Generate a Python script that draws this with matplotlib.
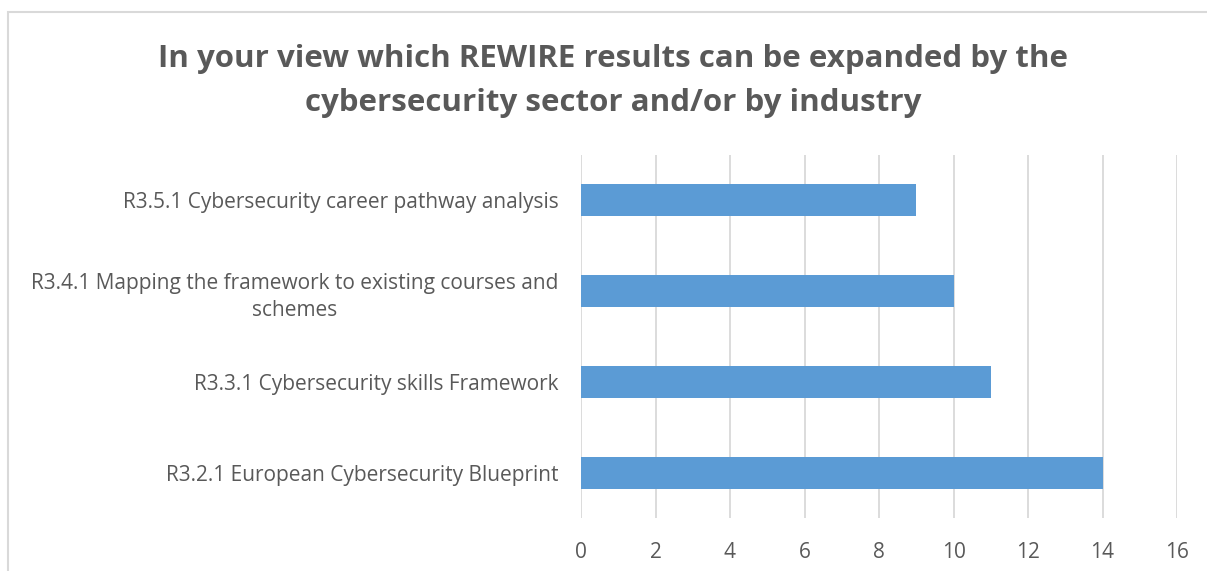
import matplotlib.pyplot as plt
from matplotlib.patches import Rectangle

plt.rcParams.update({'font.family': ['Open Sans', 'DejaVu Sans']})

categories = [
    'R3.2.1 European Cybersecurity Blueprint',
    'R3.3.1 Cybersecurity skills Framework',
    'R3.4.1 Mapping the framework to existing courses and\nschemes',
    'R3.5.1 Cybersecurity career pathway analysis',
]
values = [14, 11, 10, 9]
xticks = [0, 2, 4, 6, 8, 10, 12, 14, 16]
title = 'In your view which REWIRE results can be expanded by the\ncybersecurity sector and/or by industry'

grey_text = '#595959'
bar_color = '#5b9bd5'
grid_color = '#d9d9d9'

fig = plt.figure(figsize=(12.07, 5.71), dpi=100)
W, H = 1207, 571

# chart frame
fig.patches.append(Rectangle((8 / W, -0.1), 1.2, (571 - 12) / H + 0.1,
                             transform=fig.transFigure, fill=False,
                             edgecolor=grid_color, linewidth=1.5))

ax = fig.add_axes([581 / W, (571 - 518) / H, (1177 - 581) / W, (518 - 155) / H])
ax.barh(range(len(categories)), values, height=0.35, color=bar_color, zorder=3)
ax.set_ylim(-0.5, len(categories) - 0.5)
ax.set_xlim(0, 16)
ax.set_xticks(xticks)
ax.set_yticks(range(len(categories)))
ax.set_yticklabels(categories, multialignment='center', linespacing=1.4)
ax.grid(axis='x', color=grid_color, linewidth=1.3, zorder=0)
for s in ax.spines.values():
    s.set_visible(False)
ax.tick_params(axis='both', length=0, labelsize=15, colors=grey_text)
ax.tick_params(axis='y', pad=16)
ax.tick_params(axis='x', pad=17)

fig.text(613 / W, (571 - 81) / H, title, ha='center', va='center',
         fontsize=22.5, fontweight='bold', color=grey_text, linespacing=1.65)

fig.savefig('out.png', dpi=100)
